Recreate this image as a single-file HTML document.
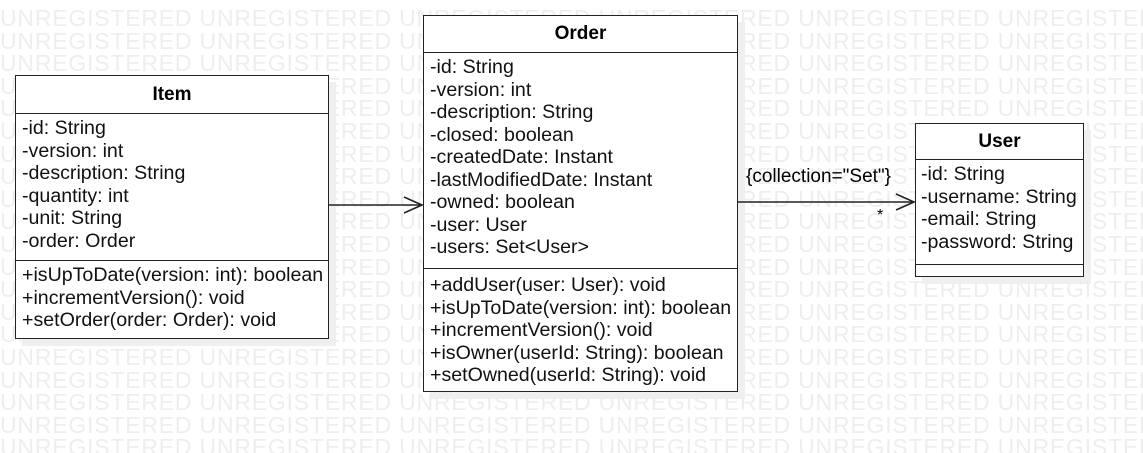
<!DOCTYPE html>
<html><head><style>
body{margin:0;width:1143px;height:453px;background:#fff;position:relative;overflow:hidden;font-family:"Liberation Sans",sans-serif;}
#wmc{position:absolute;left:0;top:0;width:1143px;height:453px;overflow:hidden}
.wm{position:absolute;left:0;font-size:23px;color:#eeeeee;white-space:nowrap;letter-spacing:0.8px;line-height:22.6px}
.box{position:absolute;background:#fff;border:1.5px solid #222;box-sizing:border-box;box-shadow:7px 7px 0 #efefef;}
.h{font-weight:bold;text-align:center;border-bottom:1.5px solid #222;font-size:19px;}
.s{padding-left:6px;font-size:19.6px;line-height:22.5px;color:#111;white-space:nowrap}
.s2{border-top:1.5px solid #222;}
.lbl{position:absolute;font-size:19px;white-space:nowrap}
</style></head><body>
<div id="wmc">
<div class="wm" style="top:7px">UNREGISTERED UNREGISTERED UNREGISTERED UNREGISTERED UNREGISTERED UNREGISTERED</div>
<div class="wm" style="top:30px">UNREGISTERED UNREGISTERED UNREGISTERED UNREGISTERED UNREGISTERED UNREGISTERED</div>
<div class="wm" style="top:52px">UNREGISTERED UNREGISTERED UNREGISTERED UNREGISTERED UNREGISTERED UNREGISTERED</div>
<div class="wm" style="top:75px">UNREGISTERED UNREGISTERED UNREGISTERED UNREGISTERED UNREGISTERED UNREGISTERED</div>
<div class="wm" style="top:97px">UNREGISTERED UNREGISTERED UNREGISTERED UNREGISTERED UNREGISTERED UNREGISTERED</div>
<div class="wm" style="top:120px">UNREGISTERED UNREGISTERED UNREGISTERED UNREGISTERED UNREGISTERED UNREGISTERED</div>
<div class="wm" style="top:143px">UNREGISTERED UNREGISTERED UNREGISTERED UNREGISTERED UNREGISTERED UNREGISTERED</div>
<div class="wm" style="top:165px">UNREGISTERED UNREGISTERED UNREGISTERED UNREGISTERED UNREGISTERED UNREGISTERED</div>
<div class="wm" style="top:188px">UNREGISTERED UNREGISTERED UNREGISTERED UNREGISTERED UNREGISTERED UNREGISTERED</div>
<div class="wm" style="top:210px">UNREGISTERED UNREGISTERED UNREGISTERED UNREGISTERED UNREGISTERED UNREGISTERED</div>
<div class="wm" style="top:233px">UNREGISTERED UNREGISTERED UNREGISTERED UNREGISTERED UNREGISTERED UNREGISTERED</div>
<div class="wm" style="top:256px">UNREGISTERED UNREGISTERED UNREGISTERED UNREGISTERED UNREGISTERED UNREGISTERED</div>
<div class="wm" style="top:278px">UNREGISTERED UNREGISTERED UNREGISTERED UNREGISTERED UNREGISTERED UNREGISTERED</div>
<div class="wm" style="top:301px">UNREGISTERED UNREGISTERED UNREGISTERED UNREGISTERED UNREGISTERED UNREGISTERED</div>
<div class="wm" style="top:323px">UNREGISTERED UNREGISTERED UNREGISTERED UNREGISTERED UNREGISTERED UNREGISTERED</div>
<div class="wm" style="top:346px">UNREGISTERED UNREGISTERED UNREGISTERED UNREGISTERED UNREGISTERED UNREGISTERED</div>
<div class="wm" style="top:369px">UNREGISTERED UNREGISTERED UNREGISTERED UNREGISTERED UNREGISTERED UNREGISTERED</div>
<div class="wm" style="top:391px">UNREGISTERED UNREGISTERED UNREGISTERED UNREGISTERED UNREGISTERED UNREGISTERED</div>
<div class="wm" style="top:414px">UNREGISTERED UNREGISTERED UNREGISTERED UNREGISTERED UNREGISTERED UNREGISTERED</div>
<div class="wm" style="top:436px">UNREGISTERED UNREGISTERED UNREGISTERED UNREGISTERED UNREGISTERED UNREGISTERED</div>
</div>

<div class="box" style="left:15px;top:75px;width:314px;height:264px">
<div class="h" style="height:37px;line-height:37px">Item</div>
<div class="s" style="height:143px;padding-top:3px">-id: String<br>-version: int<br>-description: String<br>-quantity: int<br>-unit: String<br>-order: Order</div>
<div class="s s2" style="padding-top:3px">+isUpToDate(version: int): boolean<br>+incrementVersion(): void<br>+setOrder(order: Order): void</div>
</div>

<div class="box" style="left:423px;top:15px;width:315px;height:377px">
<div class="h" style="height:36px;line-height:36px">Order</div>
<div class="s" style="height:212px;padding-top:3px">-id: String<br>-version: int<br>-description: String<br>-closed: boolean<br>-createdDate: Instant<br>-lastModifiedDate: Instant<br>-owned: boolean<br>-user: User<br>-users: Set&lt;User&gt;</div>
<div class="s s2" style="padding-top:5px">+addUser(user: User): void<br>+isUpToDate(version: int): boolean<br>+incrementVersion(): void<br>+isOwner(userId: String): boolean<br>+setOwned(userId: String): void</div>
</div>

<div class="box" style="left:915px;top:123px;width:169px;height:154px">
<div class="h" style="height:35px;line-height:35px">User</div>
<div class="s" style="height:101px;padding-top:3px;padding-left:5px">-id: String<br>-username: String<br>-email: String<br>-password: String</div>
<div class="s2"></div>
</div>

<svg style="position:absolute;left:0;top:0" width="1143" height="453">
<g stroke="#222" stroke-width="1.6" fill="none">
<line x1="329" y1="205" x2="422" y2="205"/>
<polyline points="404,197 422,205 404,213"/>
<line x1="738" y1="202" x2="914" y2="202"/>
<polyline points="896,194 914,202 896,210"/>
</g>
</svg>
<div class="lbl" style="left:746px;top:166px">{collection="Set"}</div>
<div class="lbl" style="left:877px;top:207px;font-size:16px">*</div>
</body></html>
